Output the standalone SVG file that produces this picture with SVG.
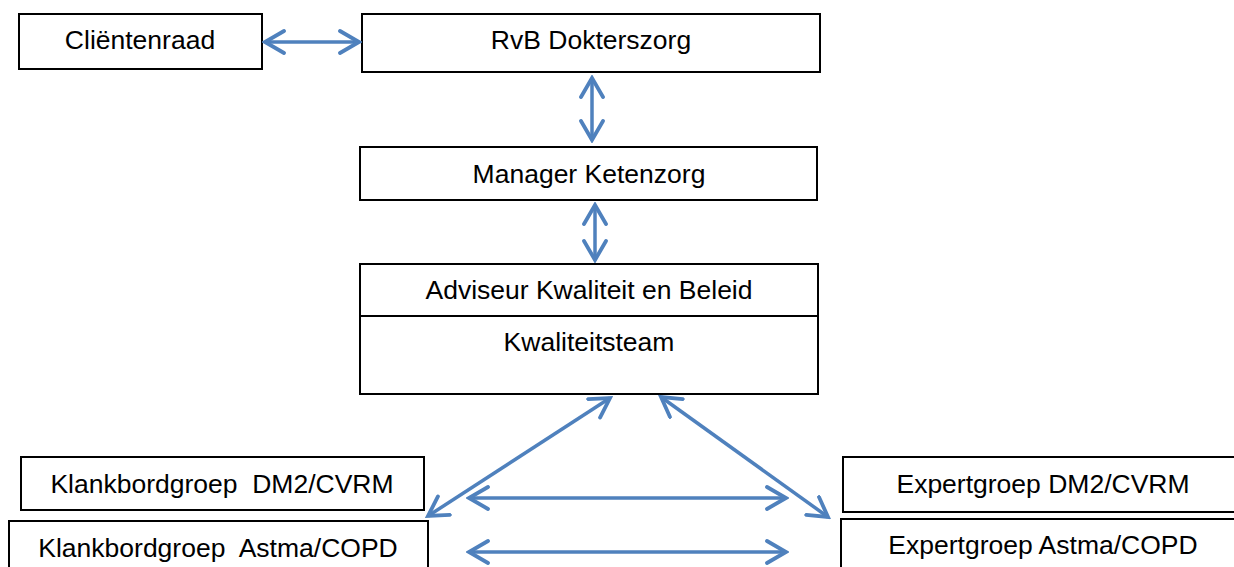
<svg xmlns="http://www.w3.org/2000/svg" width="1234" height="567" viewBox="0 0 1234 567">
  <style>
    .box { fill: #ffffff; stroke: #000000; stroke-width: 2; }
    .lbl { font-family: "Liberation Sans", Arial, sans-serif; font-size: 26.5px; fill: #000000; text-anchor: middle; }
    .conn { stroke: #4f81bd; stroke-width: 3.5; fill: none; marker-start: url(#arr); marker-end: url(#arr); }
  </style>
  <defs>
    <marker id="arr" viewBox="0 0 24 26" refX="21" refY="13" markerWidth="24" markerHeight="26" markerUnits="userSpaceOnUse" orient="auto-start-reverse">
      <path d="M2,2 L21,13 L2,24" fill="none" stroke="#4f81bd" stroke-width="3.8" stroke-linecap="round" stroke-linejoin="miter"/>
    </marker>
  </defs>
  <rect width="1234" height="567" fill="#ffffff"/>

  <g id="clientenraad">
    <rect class="box" x="19" y="14" width="243" height="55"/>
    <text class="lbl" x="140" y="49">Cliëntenraad</text>
  </g>
  <g id="rvb">
    <rect class="box" x="362" y="14" width="458" height="58"/>
    <text class="lbl" x="591" y="49">RvB Dokterszorg</text>
  </g>
  <g id="manager">
    <rect class="box" x="360" y="147" width="457" height="53"/>
    <text class="lbl" x="589" y="183">Manager Ketenzorg</text>
  </g>
  <g id="adviseur">
    <rect class="box" x="360" y="264" width="458" height="52"/>
    <text class="lbl" x="589" y="299">Adviseur Kwaliteit en Beleid</text>
  </g>
  <g id="kwaliteitsteam">
    <rect class="box" x="360" y="316" width="458" height="78"/>
    <text class="lbl" x="589" y="351">Kwaliteitsteam</text>
  </g>
  <g id="klankbord-dm2">
    <rect class="box" x="21" y="457" width="403" height="53"/>
    <text class="lbl" x="222" y="493" xml:space="preserve">Klankbordgroep  DM2/CVRM</text>
  </g>
  <g id="klankbord-astma">
    <rect class="box" x="9" y="521" width="419" height="60"/>
    <text class="lbl" x="218" y="557" xml:space="preserve">Klankbordgroep  Astma/COPD</text>
  </g>
  <g id="expert-dm2">
    <rect class="box" x="843" y="457" width="400" height="55"/>
    <text class="lbl" x="1043" y="493">Expertgroep DM2/CVRM</text>
  </g>
  <g id="expert-astma">
    <rect class="box" x="841" y="519" width="402" height="60"/>
    <text class="lbl" x="1043" y="554">Expertgroep Astma/COPD</text>
  </g>

  <g id="connectors">
    <line class="conn" x1="265" y1="42" x2="359" y2="42"/>
    <line class="conn" x1="592" y1="78" x2="592" y2="140"/>
    <line class="conn" x1="595" y1="205" x2="595" y2="260"/>
    <line class="conn" x1="610" y1="398" x2="428" y2="516"/>
    <line class="conn" x1="661" y1="397" x2="828" y2="517"/>
    <line class="conn" x1="469" y1="498" x2="786" y2="498"/>
    <line class="conn" x1="469" y1="552" x2="786" y2="552"/>
  </g>
</svg>
